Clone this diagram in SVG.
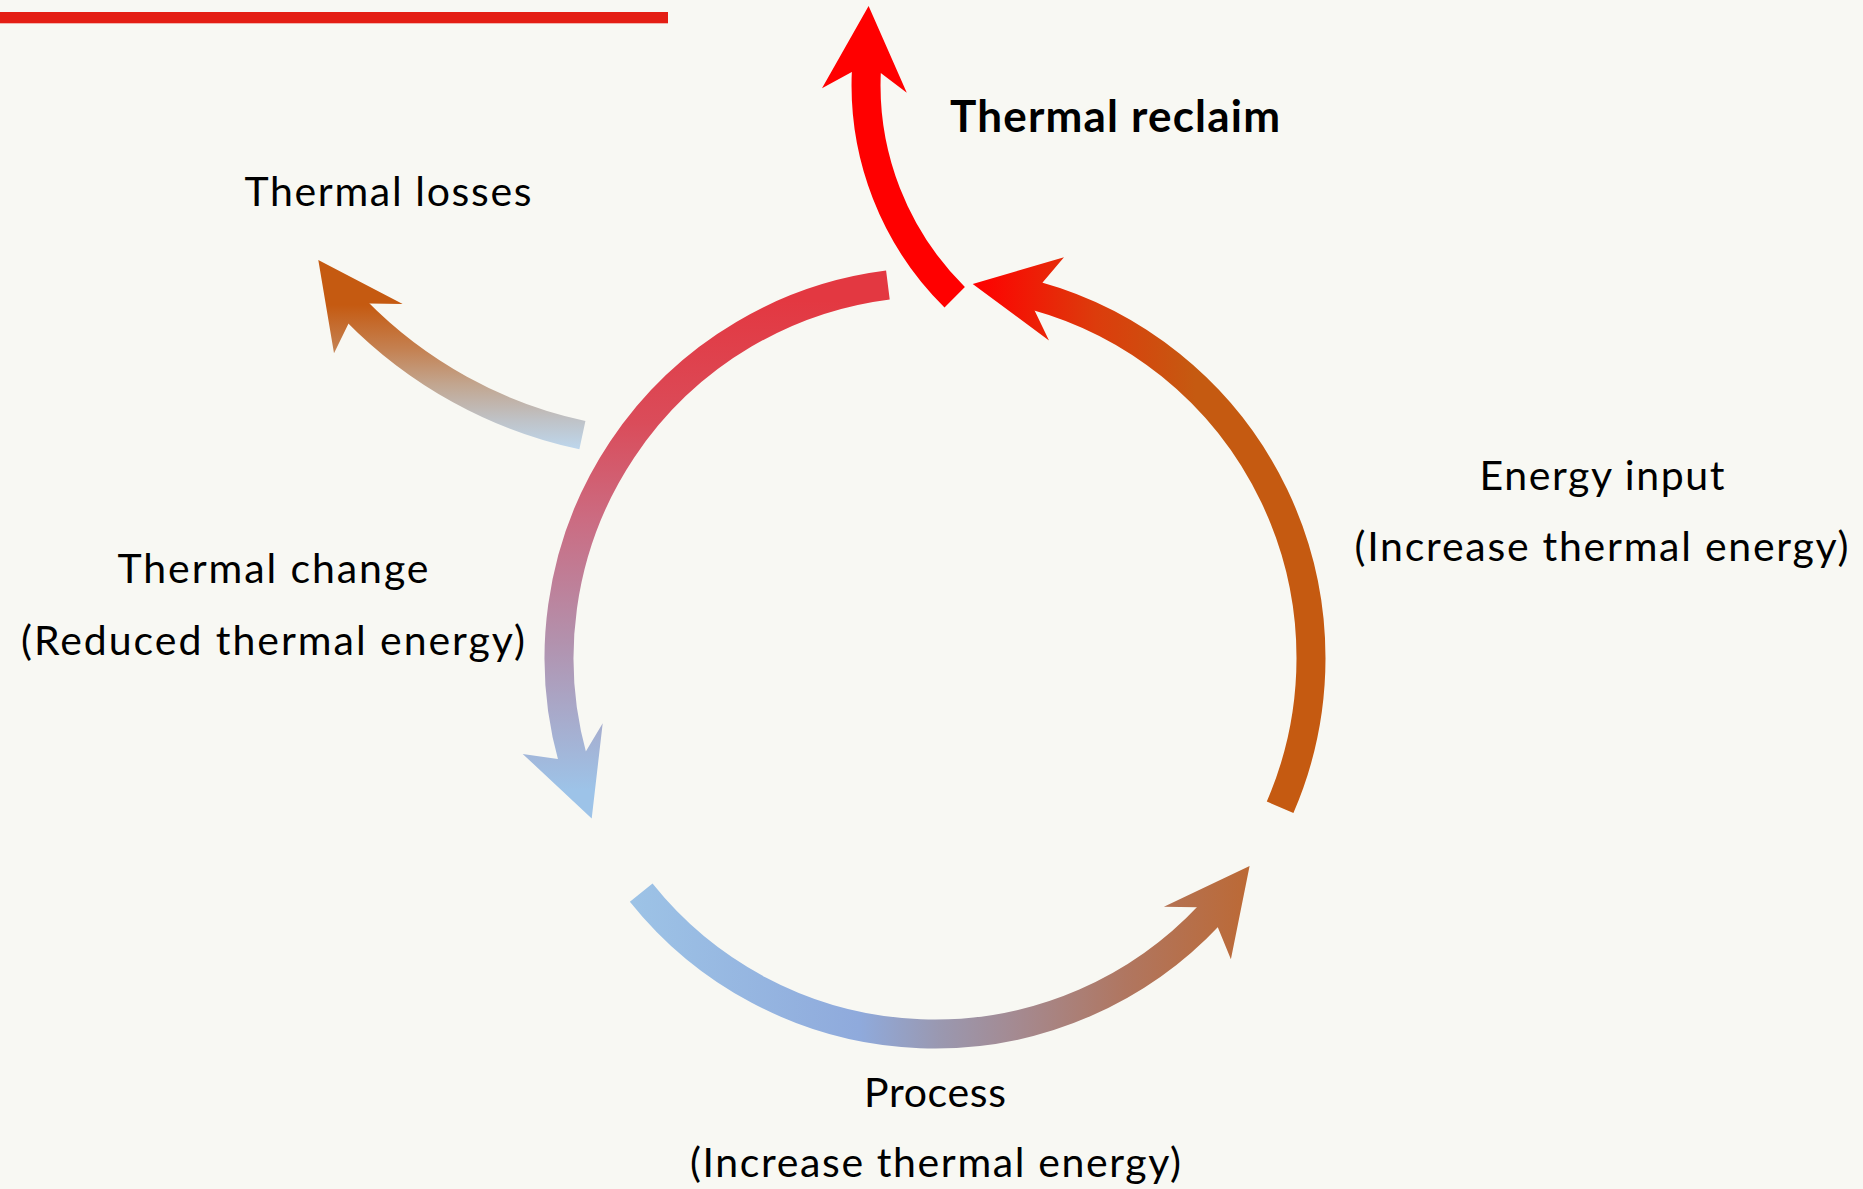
<svg xmlns="http://www.w3.org/2000/svg" width="1863" height="1189" viewBox="0 0 1863 1189">
  <style>
    .label { font-family: "Lato", "Liberation Sans", sans-serif; font-size: 41px; fill: #000; text-anchor: middle; }
    .label-bold { font-family: "Lato", "Liberation Sans", sans-serif; font-size: 44px; font-weight: bold; fill: #000; text-anchor: middle; }
    .band { fill: none; stroke-width: 29; stroke-linecap: butt; }
  </style>
  <defs>
    <!-- cycle arcs: each arrow uses one user-space gradient for band and head -->
    <linearGradient id="gChange" gradientUnits="userSpaceOnUse" x1="0" y1="300" x2="0" y2="790">
      <stop offset="0" stop-color="#E33841"/>
      <stop offset="0.25" stop-color="#DA4C5A"/>
      <stop offset="0.45" stop-color="#CB6C82"/>
      <stop offset="0.7" stop-color="#B292AE"/>
      <stop offset="1" stop-color="#9DC3E8"/>
    </linearGradient>
    <linearGradient id="gInput" gradientUnits="userSpaceOnUse" x1="975" y1="0" x2="1195" y2="0">
      <stop offset="0" stop-color="#FF0000"/>
      <stop offset="0.55" stop-color="#DC3C0C"/>
      <stop offset="1" stop-color="#C55A11"/>
    </linearGradient>
    <linearGradient id="gProcess" gradientUnits="userSpaceOnUse" x1="630" y1="0" x2="1250" y2="0">
      <stop offset="0" stop-color="#9DC3E6"/>
      <stop offset="0.37" stop-color="#8FAADC"/>
      <stop offset="0.5" stop-color="#9A98B0"/>
      <stop offset="0.63" stop-color="#A5898F"/>
      <stop offset="0.8" stop-color="#B07660"/>
      <stop offset="1" stop-color="#BC6935"/>
    </linearGradient>
    <linearGradient id="gLosses" gradientUnits="userSpaceOnUse" x1="0" y1="305" x2="0" y2="450">
      <stop offset="0" stop-color="#C55A11"/>
      <stop offset="0.3" stop-color="#C48050"/>
      <stop offset="0.55" stop-color="#C2A690"/>
      <stop offset="0.8" stop-color="#BFC3C8"/>
      <stop offset="1" stop-color="#BDD7EE"/>
    </linearGradient>
  </defs>

  <rect width="1863" height="1189" fill="#F8F8F3"/>

  <!-- header rule -->
  <rect id="header-rule" x="0" y="12" width="668" height="11.3" fill="#E41E14"/>

  <g id="connectors">
    <g id="arrow-thermal-change">
      <path class="band" d="M887.9 285 A376 376 0 0 0 572.7 758.5" stroke="url(#gChange)"/>
      <polygon points="585.8,751.6 602.7,723.2 591.7,818.6 522.7,753.9 557.8,759.1" fill="url(#gChange)"/>
    </g>
    <g id="arrow-process">
      <path class="band" d="M641.2 892.6 A376 376 0 0 0 1209.6 914.9" stroke="url(#gProcess)"/>
      <polygon points="1196.8,907.3 1163.9,906.7 1249.6,866 1230.9,959.3 1217.8,927.3" fill="url(#gProcess)"/>
    </g>
    <g id="arrow-energy-input">
      <path class="band" d="M1280.1 807.3 A376 376 0 0 0 1035.5 295.7" stroke="url(#gInput)"/>
      <polygon points="1034.6,310.5 1049,340.6 972.7,284 1064,257.2 1042.6,282.6" fill="url(#gInput)"/>
    </g>
    <g id="arrow-thermal-reclaim">
      <path class="band" d="M954.7 297.2 A298 298 0 0 1 866.4 70.5" stroke="#FF0000"/>
      <polygon points="880.75,73.1 906.8,92.7 868.6,6 822,88.3 851.8,71.9" fill="#FF0000"/>
    </g>
    <g id="arrow-thermal-losses">
      <path class="band" d="M582.4 435.1 A448 448 0 0 1 355.9 310.5" stroke="url(#gLosses)" stroke-width="28"/>
      <polygon points="368.6,303.4 402.7,304 318.3,260 334,353.3 348.8,323.1" fill="url(#gLosses)"/>
    </g>
  </g>

  <g id="node-thermal-reclaim">
    <text class="label-bold" x="1115" y="132" textLength="330" lengthAdjust="spacing">Thermal reclaim</text>
  </g>
  <g id="node-thermal-losses">
    <text class="label" x="388" y="206" textLength="287" lengthAdjust="spacing">Thermal losses</text>
  </g>
  <g id="node-energy-input">
    <text class="label" x="1602" y="490" textLength="245" lengthAdjust="spacing">Energy input</text>
    <text class="label" x="1601.5" y="561" textLength="494" lengthAdjust="spacing">(Increase thermal energy)</text>
  </g>
  <g id="node-thermal-change">
    <text class="label" x="273" y="583" textLength="311" lengthAdjust="spacing">Thermal change</text>
    <text class="label" x="273" y="655" textLength="504" lengthAdjust="spacing">(Reduced thermal energy)</text>
  </g>
  <g id="node-process">
    <text class="label" x="935" y="1107" textLength="142" lengthAdjust="spacing">Process</text>
    <text class="label" x="935.5" y="1177" textLength="491" lengthAdjust="spacing">(Increase thermal energy)</text>
  </g>
</svg>
